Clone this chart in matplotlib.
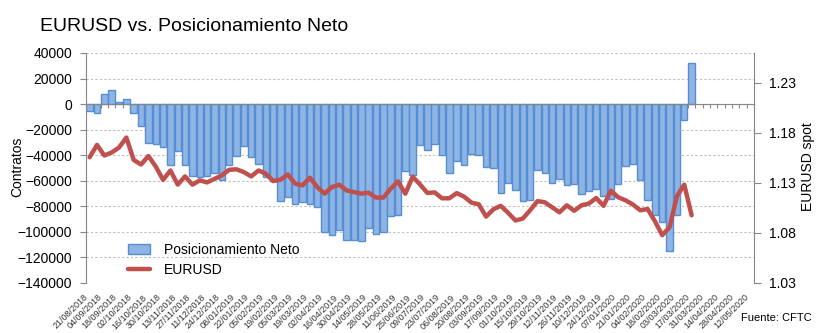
import matplotlib.pyplot as plt
import numpy as np

plt.rcParams['font.family'] = ['Liberation Sans', 'DejaVu Sans']

# weekly categories 21/08/2018 .. 12/05/2020, labelled every second week
n_weeks = 91
tick_labels = [
    '21/08/2018', '04/09/2018', '18/09/2018', '02/10/2018', '16/10/2018', '30/10/2018',
    '13/11/2018', '27/11/2018', '11/12/2018', '24/12/2018', '08/01/2019', '22/01/2019',
    '05/02/2019', '19/02/2019', '05/03/2019', '19/03/2019', '02/04/2019', '16/04/2019',
    '30/04/2019', '14/05/2019', '28/05/2019', '11/06/2019', '25/06/2019', '09/07/2019',
    '23/07/2019', '06/08/2019', '20/08/2019', '03/09/2019', '17/09/2019', '01/10/2019',
    '15/10/2019', '29/10/2019', '12/11/2019', '26/11/2019', '10/12/2019', '24/12/2019',
    '07/01/2020', '21/01/2020', '04/02/2020', '18/02/2020', '03/03/2020', '17/03/2020',
    '31/03/2020', '14/04/2020', '28/04/2020', '12/05/2020',
]

# net speculative position (contracts)
net = [
    -5000, -7300, 7800, 11000, 1600, 3900, -7200, -17000, -30300, -30900,
    -33200, -47300, -37000, -47900, -56300, -57000, -56300, -53700, -59700, -47900,
    -40300, -32800, -41300, -47100, -57000, -60000, -75600, -72700, -78500, -76700,
    -78500, -80600, -99700, -102300, -98900, -106000, -106000, -106800, -97100, -101500,
    -99700, -87700, -86600, -52500, -55700, -32200, -36100, -31400, -40000, -54200,
    -44700, -47300, -38700, -39500, -49500, -50000, -69300, -61500, -67000, -76100,
    -75400, -51800, -53700, -61500, -58300, -63000, -62300, -70100, -68300, -66200,
    -72000, -74000, -62300, -48400, -47100, -59700, -75400, -86400, -91900, -114600,
    -87100, -12600, 31900,
]

# EURUSD spot
eurusd = [
    1.1558, 1.1681, 1.1575, 1.1605, 1.1655, 1.1754, 1.1530, 1.1485, 1.1570, 1.1465,
    1.1331, 1.1425, 1.1284, 1.1366, 1.1284, 1.1326, 1.1306, 1.1341, 1.1376, 1.1432,
    1.1437, 1.1409, 1.1366, 1.1425, 1.1393, 1.1319, 1.1333, 1.1386, 1.1293, 1.1276,
    1.1353, 1.1259, 1.1193, 1.1259, 1.1283, 1.1226, 1.1209, 1.1193, 1.1203, 1.1154,
    1.1154, 1.1243, 1.1316, 1.1193, 1.1363, 1.1286, 1.1201, 1.1206, 1.1147, 1.1147,
    1.1199, 1.1164, 1.1104, 1.1087, 1.0964, 1.1037, 1.1072, 1.1002, 1.0925, 1.0944,
    1.1027, 1.1119, 1.1107, 1.1057, 1.1007, 1.1077, 1.1022, 1.1077, 1.1094, 1.1150,
    1.1072, 1.1223, 1.1157, 1.1127, 1.1085, 1.1027, 1.1040, 1.0918, 1.0778, 1.0858,
    1.1167, 1.1284, 1.0977,
]

grey = '#868686'

fig = plt.figure(figsize=(8.26, 3.33), dpi=100)
ax = fig.add_axes([86 / 826, 1 - 283 / 333, 668 / 826, 230 / 333])

bars = ax.bar(np.arange(len(net)), net, width=0.88, color='#8DB4E2',
              edgecolor='#558ED5', linewidth=1, zorder=2)
ax.set_xlim(-0.5, n_weeks - 0.5)
ax.set_ylim(-140000, 40000)
ax.set_yticks(np.arange(-140000, 40001, 20000))
ax.yaxis.grid(True, linestyle=(0, (2, 2)), color='#BFBFBF', linewidth=0.8)
ax.set_axisbelow(True)
ax.tick_params(axis='y', direction='out', length=4, color=grey, pad=6, labelsize=10)

# category axis sits on the zero line, tick marks between weeks
ax.spines['bottom'].set_position(('data', 0))
ax.spines['bottom'].set_color(grey)
ax.spines['left'].set_color(grey)
ax.spines['top'].set_visible(False)
ax.spines['right'].set_visible(False)
ax.set_xticks(np.arange(-0.5, n_weeks, 1))
ax.tick_params(axis='x', direction='out', length=3, color=grey, labelbottom=False)

# date labels at the bottom of the plot
sec = ax.secondary_xaxis(0.0)
sec.set_xticks(np.arange(0, n_weeks, 2), tick_labels, rotation=45, ha='right',
               fontsize=6.5, color='#333333')
sec.tick_params(length=0, pad=7)
sec.spines['bottom'].set_visible(False)

ax2 = ax.twinx()
line, = ax2.plot(np.arange(len(eurusd)), eurusd, color='#C0504D', linewidth=3.2,
                 solid_joinstyle='round', solid_capstyle='round')
ax2.set_ylim(1.03, 1.26)
ax2.set_yticks(np.arange(1.03, 1.2301, 0.05))
ax2.set_yticklabels(['%.2f' % v for v in np.arange(1.03, 1.2301, 0.05)])
ax2.tick_params(axis='y', direction='out', length=5, color=grey, pad=6, labelsize=10)
for s in ['top', 'bottom', 'left']:
    ax2.spines[s].set_visible(False)
ax2.spines['right'].set_color(grey)

fig.legend([bars, line], ['Posicionamiento Neto', 'EURUSD'], loc='upper left',
           bbox_to_anchor=(128 / 826, 1 - 243 / 333), frameon=False, fontsize=10,
           handlelength=1.6, handletextpad=1.0, labelspacing=0.45,
           borderpad=0, borderaxespad=0)

fig.text(40 / 826, 1 - 31 / 333, 'EURUSD vs. Posicionamiento Neto', fontsize=14,
         va='baseline')
fig.text(17 / 826, 1 - 167 / 333, 'Contratos', rotation=90, ha='center', va='center',
         fontsize=10)
fig.text(808 / 826, 1 - 167 / 333, 'EURUSD spot', rotation=90, ha='center',
         va='center', fontsize=10)
fig.text(812 / 826, 1 - 318 / 333, 'Fuente: CFTC', ha='right', va='center', fontsize=8)

fig.savefig('out.png', dpi=100)
